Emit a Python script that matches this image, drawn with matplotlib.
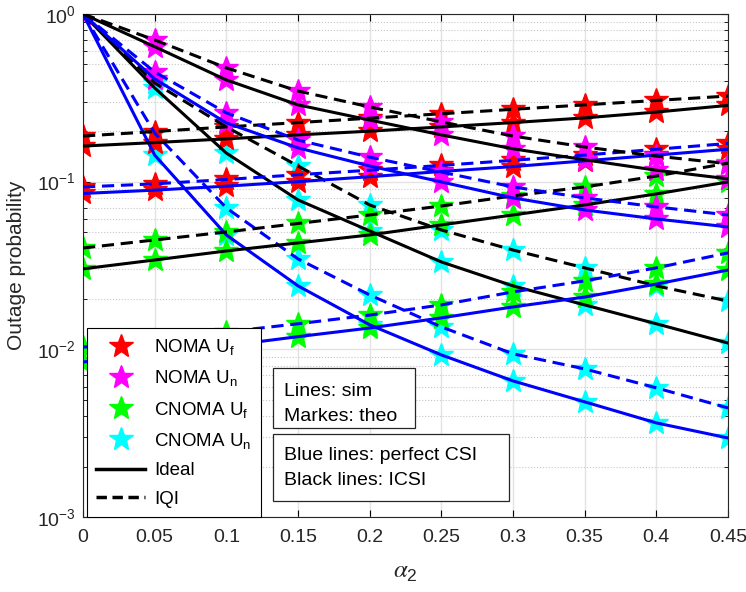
import matplotlib
matplotlib.use('Agg')
import matplotlib.pyplot as plt
from matplotlib.lines import Line2D
from matplotlib.patches import Rectangle

plt.rcParams['font.family'] = ['Liberation Sans', 'DejaVu Sans']
plt.rcParams['mathtext.default'] = 'regular'

alpha2 = [0, 0.05, 0.1, 0.15, 0.2, 0.25, 0.3, 0.35, 0.4, 0.45]
xtick_labels = ['0', '0.05', '0.1', '0.15', '0.2', '0.25', '0.3', '0.35', '0.4', '0.45']

# NOMA far user (red markers)
noma_uf_pcsi_ideal = [0.085, 0.089, 0.094, 0.100, 0.107, 0.115, 0.123, 0.133, 0.144, 0.156]
noma_uf_pcsi_iqi = [0.093, 0.097, 0.103, 0.110, 0.117, 0.125, 0.134, 0.144, 0.156, 0.169]
noma_uf_icsi_ideal = [0.163, 0.171, 0.180, 0.190, 0.200, 0.212, 0.225, 0.240, 0.260, 0.285]
noma_uf_icsi_iqi = [0.187, 0.199, 0.212, 0.225, 0.239, 0.254, 0.270, 0.287, 0.305, 0.324]

# NOMA near user (magenta markers)
noma_un_pcsi_ideal = [1.0, 0.410, 0.224, 0.159, 0.124, 0.0996, 0.080, 0.0678, 0.0599, 0.0537]
noma_un_pcsi_iqi = [1.0, 0.451, 0.257, 0.177, 0.140, 0.114, 0.093, 0.080, 0.0707, 0.0633]
noma_un_icsi_ideal = [1.0, 0.638, 0.404, 0.287, 0.233, 0.190, 0.157, 0.135, 0.117, 0.104]
noma_un_icsi_iqi = [1.0, 0.700, 0.477, 0.347, 0.279, 0.227, 0.187, 0.161, 0.142, 0.128]

# CNOMA far user (green markers)
cnoma_uf_pcsi_ideal = [0.0084, 0.0094, 0.0105, 0.0119, 0.0134, 0.0154, 0.0179, 0.0205, 0.0245, 0.0297]
cnoma_uf_pcsi_iqi = [0.0103, 0.0114, 0.0127, 0.0142, 0.0160, 0.0184, 0.0220, 0.0256, 0.0306, 0.0376]
cnoma_uf_icsi_ideal = [0.0302, 0.0341, 0.0386, 0.0431, 0.0481, 0.0552, 0.0633, 0.0726, 0.0845, 0.0996]
cnoma_uf_icsi_iqi = [0.0402, 0.0449, 0.0501, 0.0563, 0.0633, 0.0716, 0.0822, 0.093, 0.108, 0.129]

# CNOMA near user (cyan markers)
cnoma_un_pcsi_ideal = [1.0, 0.144, 0.0481, 0.0239, 0.0140, 0.00926, 0.00648, 0.00486, 0.00364, 0.00296]
cnoma_un_pcsi_iqi = [1.0, 0.195, 0.0697, 0.0346, 0.0211, 0.0136, 0.0094, 0.00764, 0.00589, 0.00447]
cnoma_un_icsi_ideal = [1.0, 0.362, 0.148, 0.0778, 0.0508, 0.0332, 0.0239, 0.0184, 0.0142, 0.0109]
cnoma_un_icsi_iqi = [1.0, 0.388, 0.212, 0.124, 0.0726, 0.0515, 0.0391, 0.0306, 0.0239, 0.0194]

groups = [
    ('#00ffff', [cnoma_un_pcsi_ideal, cnoma_un_pcsi_iqi, cnoma_un_icsi_ideal, cnoma_un_icsi_iqi]),
    ('#00ff00', [cnoma_uf_pcsi_ideal, cnoma_uf_pcsi_iqi, cnoma_uf_icsi_ideal, cnoma_uf_icsi_iqi]),
    ('#ff0000', [noma_uf_pcsi_ideal, noma_uf_pcsi_iqi, noma_uf_icsi_ideal, noma_uf_icsi_iqi]),
    ('#ff00ff', [noma_un_pcsi_ideal, noma_un_pcsi_iqi, noma_un_icsi_ideal, noma_un_icsi_iqi]),
]
line_styles = [('#0000ff', '-'), ('#0000ff', '--'), ('k', '-'), ('k', '--')]

fig = plt.figure(figsize=(7.46, 5.92), dpi=100)
ax = fig.add_axes([0.1113, 0.1267, 0.8646, 0.8497])

for mcolor, series in groups:
    for s in series:
        ax.plot(alpha2, s, linestyle='none', marker='*', markersize=18,
                color=mcolor, zorder=2)
for mcolor, series in groups:
    for s, (lc, ls) in zip(series, line_styles):
        if ls == '--':
            ax.plot(alpha2, s, color=lc, linestyle=ls, linewidth=2.2, dashes=(4, 2.2), zorder=3)
        else:
            ax.plot(alpha2, s, color=lc, linestyle=ls, linewidth=2.2, zorder=3)

ax.set_yscale('log')
ax.set_xlim(0, 0.45)
ax.set_ylim(1e-3, 1)
ax.set_xticks(alpha2)
ax.set_xticklabels(xtick_labels)
ax.tick_params(which='both', direction='in', top=True, right=True, labelsize=14,
               labelcolor='#262626')
ax.tick_params(axis='x', pad=9)
ax.tick_params(axis='y', pad=5)
ax.tick_params(which='major', length=5)
ax.tick_params(which='minor', length=3)
ax.grid(True, which='major', color='#e3e3e3', linewidth=1.0, linestyle='-', zorder=0)
ax.grid(True, which='minor', axis='y', color='#c8c8c8', linewidth=0.8, linestyle=':', zorder=0)
ax.set_axisbelow(True)
for sp in ax.spines.values():
    sp.set_color('#262626')
    sp.set_linewidth(0.8)

ax.set_ylabel('Outage probability', fontsize=15, labelpad=8, color='#262626')
ax.set_xlabel(r'$\mathit{\alpha}_2$', fontsize=18, math_fontfamily='stix',
              labelpad=10, color='#262626')

handles = [
    Line2D([], [], linestyle='none', marker='*', markersize=18, color='#ff0000'),
    Line2D([], [], linestyle='none', marker='*', markersize=18, color='#ff00ff'),
    Line2D([], [], linestyle='none', marker='*', markersize=18, color='#00ff00'),
    Line2D([], [], linestyle='none', marker='*', markersize=18, color='#00ffff'),
    Line2D([], [], color='k', linestyle='-', linewidth=2.5),
    Line2D([], [], color='k', linestyle='--', linewidth=2.5, dashes=(3, 1.6)),
]
labels = ['NOMA U$_f$', 'NOMA U$_n$', 'CNOMA U$_f$', 'CNOMA U$_n$', 'Ideal', 'IQI']
leg = ax.legend(handles, labels, loc='lower left', bbox_to_anchor=(0.006, 0.0),
                borderaxespad=0, fontsize=13.5, frameon=True, fancybox=False,
                edgecolor='k', framealpha=1, labelspacing=0.6, handlelength=2.6,
                handletextpad=0.5, borderpad=0.5)
leg.get_frame().set_linewidth(0.8)
leg.set_zorder(10)

# annotation boxes (figure fractions)
for x0, y0, w, h in [(0.366, 0.2765, 0.1903, 0.1014), (0.366, 0.1542, 0.3164, 0.1127)]:
    fig.add_artist(Rectangle((x0, y0), w, h, transform=fig.transFigure,
                             facecolor='white', edgecolor='#262626', linewidth=0.9, zorder=5))
for txt, yb in [('Lines: sim', 0.3311), ('Markes: theo', 0.2894),
                ('Blue lines: perfect CSI', 0.2230), ('Black lines: ICSI', 0.1807)]:
    fig.text(0.3807, yb, txt, fontsize=14, va='baseline', ha='left', zorder=6)

fig.savefig('out.png', dpi=100)
